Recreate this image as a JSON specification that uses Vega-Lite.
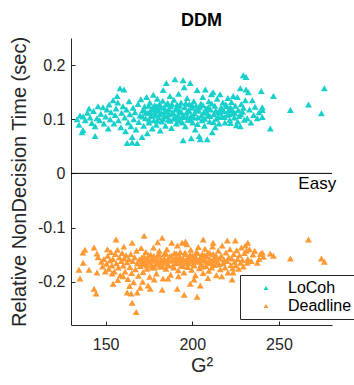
{
"$schema": "https://vega.github.io/schema/vega-lite/v6.json",
"width": 261, "height": 287, "autosize": "none",
"padding": {"left": 71, "top": 38, "right": 22, "bottom": 60},
"config": {"font": "Liberation Sans", "view": {"stroke": null},
  "axis": {"domainColor": "#262626", "tickColor": "#262626", "labelColor": "#262626", "titleColor": "#262626", "labelFontSize": 16, "titleFontSize": 20, "titleFontWeight": "normal", "grid": false, "tickSize": -4, "domainWidth": 1, "tickWidth": 1}},
"title": {"text": "DDM", "fontSize": 18, "fontWeight": "bold", "color": "#000", "offset": 6, "anchor": "middle"},
"layer": [
{"data": {"values": [
{"g":133.5,"t":0.1,"s":"LoCoh"},{"g":134.6,"t":0.09,"s":"LoCoh"},{"g":135.2,"t":0.107,"s":"LoCoh"},{"g":136.4,"t":0.076,"s":"LoCoh"},{"g":136.9,"t":0.08,"s":"LoCoh"},{"g":137,"t":0.105,"s":"LoCoh"},{"g":138.2,"t":0.098,"s":"LoCoh"},{"g":139.5,"t":0.112,"s":"LoCoh"},{"g":140.4,"t":0.12,"s":"LoCoh"},{"g":141,"t":0.103,"s":"LoCoh"},{"g":142,"t":0.093,"s":"LoCoh"},{"g":143,"t":0.115,"s":"LoCoh"},{"g":143.9,"t":0.087,"s":"LoCoh"},{"g":143.9,"t":0.069,"s":"LoCoh"},{"g":145,"t":0.102,"s":"LoCoh"},{"g":145.6,"t":0.124,"s":"LoCoh"},{"g":146.5,"t":0.098,"s":"LoCoh"},{"g":147.2,"t":0.11,"s":"LoCoh"},{"g":148.5,"t":0.122,"s":"LoCoh"},{"g":149,"t":0.092,"s":"LoCoh"},{"g":150,"t":0.105,"s":"LoCoh"},{"g":150.8,"t":0.118,"s":"LoCoh"},{"g":151.5,"t":0.083,"s":"LoCoh"},{"g":152,"t":0.127,"s":"LoCoh"},{"g":152.6,"t":0.1,"s":"LoCoh"},{"g":153.1,"t":0.113,"s":"LoCoh"},{"g":154.3,"t":0.135,"s":"LoCoh"},{"g":154.8,"t":0.092,"s":"LoCoh"},{"g":155.5,"t":0.108,"s":"LoCoh"},{"g":156,"t":0.12,"s":"LoCoh"},{"g":156.6,"t":0.143,"s":"LoCoh"},{"g":157,"t":0.131,"s":"LoCoh"},{"g":157.4,"t":0.098,"s":"LoCoh"},{"g":158.3,"t":0.157,"s":"LoCoh"},{"g":158.8,"t":0.085,"s":"LoCoh"},{"g":159.2,"t":0.112,"s":"LoCoh"},{"g":160,"t":0.124,"s":"LoCoh"},{"g":160.6,"t":0.155,"s":"LoCoh"},{"g":161,"t":0.103,"s":"LoCoh"},{"g":161.5,"t":0.078,"s":"LoCoh"},{"g":162,"t":0.118,"s":"LoCoh"},{"g":162.4,"t":0.056,"s":"LoCoh"},{"g":163,"t":0.094,"s":"LoCoh"},{"g":163.5,"t":0.133,"s":"LoCoh"},{"g":164,"t":0.109,"s":"LoCoh"},{"g":164.6,"t":0.087,"s":"LoCoh"},{"g":165.3,"t":0.057,"s":"LoCoh"},{"g":165.3,"t":0.067,"s":"LoCoh"},{"g":165.8,"t":0.121,"s":"LoCoh"},{"g":166.2,"t":0.1,"s":"LoCoh"},{"g":166.9,"t":0.113,"s":"LoCoh"},{"g":167.5,"t":0.081,"s":"LoCoh"},{"g":168.2,"t":0.056,"s":"LoCoh"},{"g":168.7,"t":0.128,"s":"LoCoh"},{"g":169.1,"t":0.095,"s":"LoCoh"},{"g":169.8,"t":0.107,"s":"LoCoh"},{"g":170.3,"t":0.137,"s":"LoCoh"},{"g":171,"t":0.067,"s":"LoCoh"},{"g":171.4,"t":0.116,"s":"LoCoh"},{"g":171.9,"t":0.088,"s":"LoCoh"},{"g":172.5,"t":0.124,"s":"LoCoh"},{"g":173,"t":0.102,"s":"LoCoh"},{"g":173.6,"t":0.141,"s":"LoCoh"},{"g":174,"t":0.074,"s":"LoCoh"},{"g":174.4,"t":0.112,"s":"LoCoh"},{"g":175,"t":0.094,"s":"LoCoh"},{"g":175.5,"t":0.131,"s":"LoCoh"},{"g":176,"t":0.106,"s":"LoCoh"},{"g":176.4,"t":0.119,"s":"LoCoh"},{"g":176.9,"t":0.083,"s":"LoCoh"},{"g":177.5,"t":0.145,"s":"LoCoh"},{"g":177.9,"t":0.098,"s":"LoCoh"},{"g":178.3,"t":0.126,"s":"LoCoh"},{"g":178.8,"t":0.11,"s":"LoCoh"},{"g":179.2,"t":0.09,"s":"LoCoh"},{"g":179.8,"t":0.138,"s":"LoCoh"},{"g":180.2,"t":0.117,"s":"LoCoh"},{"g":180.6,"t":0.103,"s":"LoCoh"},{"g":181.1,"t":0.128,"s":"LoCoh"},{"g":181.5,"t":0.079,"s":"LoCoh"},{"g":182,"t":0.112,"s":"LoCoh"},{"g":182.4,"t":0.096,"s":"LoCoh"},{"g":182.9,"t":0.134,"s":"LoCoh"},{"g":183.2,"t":0.154,"s":"LoCoh"},{"g":183.6,"t":0.121,"s":"LoCoh"},{"g":184,"t":0.106,"s":"LoCoh"},{"g":184.5,"t":0.088,"s":"LoCoh"},{"g":185,"t":0.167,"s":"LoCoh"},{"g":185.3,"t":0.115,"s":"LoCoh"},{"g":185.8,"t":0.13,"s":"LoCoh"},{"g":186.2,"t":0.099,"s":"LoCoh"},{"g":186.7,"t":0.109,"s":"LoCoh"},{"g":187.1,"t":0.143,"s":"LoCoh"},{"g":187.6,"t":0.124,"s":"LoCoh"},{"g":188,"t":0.084,"s":"LoCoh"},{"g":188.5,"t":0.113,"s":"LoCoh"},{"g":189,"t":0.101,"s":"LoCoh"},{"g":189.4,"t":0.136,"s":"LoCoh"},{"g":190,"t":0.174,"s":"LoCoh"},{"g":190.3,"t":0.118,"s":"LoCoh"},{"g":190.8,"t":0.092,"s":"LoCoh"},{"g":191.2,"t":0.127,"s":"LoCoh"},{"g":191.7,"t":0.108,"s":"LoCoh"},{"g":192.1,"t":0.147,"s":"LoCoh"},{"g":192.6,"t":0.116,"s":"LoCoh"},{"g":193,"t":0.097,"s":"LoCoh"},{"g":193.5,"t":0.131,"s":"LoCoh"},{"g":194,"t":0.104,"s":"LoCoh"},{"g":194.7,"t":0.172,"s":"LoCoh"},{"g":194.7,"t":0.061,"s":"LoCoh"},{"g":195.3,"t":0.159,"s":"LoCoh"},{"g":195.6,"t":0.122,"s":"LoCoh"},{"g":196,"t":0.087,"s":"LoCoh"},{"g":196.5,"t":0.112,"s":"LoCoh"},{"g":197,"t":0.139,"s":"LoCoh"},{"g":197.4,"t":0.099,"s":"LoCoh"},{"g":197.9,"t":0.117,"s":"LoCoh"},{"g":198.3,"t":0.128,"s":"LoCoh"},{"g":198.8,"t":0.167,"s":"LoCoh"},{"g":199.2,"t":0.106,"s":"LoCoh"},{"g":199.4,"t":0.065,"s":"LoCoh"},{"g":199.8,"t":0.121,"s":"LoCoh"},{"g":200.3,"t":0.094,"s":"LoCoh"},{"g":200.8,"t":0.133,"s":"LoCoh"},{"g":201.2,"t":0.111,"s":"LoCoh"},{"g":201.7,"t":0.081,"s":"LoCoh"},{"g":202.2,"t":0.125,"s":"LoCoh"},{"g":202.8,"t":0.154,"s":"LoCoh"},{"g":203.2,"t":0.103,"s":"LoCoh"},{"g":203.7,"t":0.116,"s":"LoCoh"},{"g":204,"t":0.069,"s":"LoCoh"},{"g":204.6,"t":0.063,"s":"LoCoh"},{"g":205,"t":0.129,"s":"LoCoh"},{"g":205.5,"t":0.098,"s":"LoCoh"},{"g":206,"t":0.141,"s":"LoCoh"},{"g":206.5,"t":0.112,"s":"LoCoh"},{"g":207,"t":0.088,"s":"LoCoh"},{"g":207.5,"t":0.155,"s":"LoCoh"},{"g":207.9,"t":0.12,"s":"LoCoh"},{"g":208.6,"t":0.063,"s":"LoCoh"},{"g":209,"t":0.107,"s":"LoCoh"},{"g":209.5,"t":0.133,"s":"LoCoh"},{"g":210,"t":0.096,"s":"LoCoh"},{"g":210.5,"t":0.118,"s":"LoCoh"},{"g":211,"t":0.146,"s":"LoCoh"},{"g":211.5,"t":0.076,"s":"LoCoh"},{"g":212,"t":0.15,"s":"LoCoh"},{"g":212.4,"t":0.109,"s":"LoCoh"},{"g":213,"t":0.125,"s":"LoCoh"},{"g":213.2,"t":0.085,"s":"LoCoh"},{"g":213.8,"t":0.101,"s":"LoCoh"},{"g":214.3,"t":0.138,"s":"LoCoh"},{"g":214.9,"t":0.113,"s":"LoCoh"},{"g":215.4,"t":0.092,"s":"LoCoh"},{"g":216,"t":0.146,"s":"LoCoh"},{"g":216.5,"t":0.121,"s":"LoCoh"},{"g":217,"t":0.104,"s":"LoCoh"},{"g":217.6,"t":0.131,"s":"LoCoh"},{"g":218.2,"t":0.115,"s":"LoCoh"},{"g":218.8,"t":0.094,"s":"LoCoh"},{"g":219.3,"t":0.127,"s":"LoCoh"},{"g":220,"t":0.108,"s":"LoCoh"},{"g":220.5,"t":0.139,"s":"LoCoh"},{"g":221,"t":0.117,"s":"LoCoh"},{"g":221.6,"t":0.099,"s":"LoCoh"},{"g":222,"t":0.122,"s":"LoCoh"},{"g":222,"t":0.093,"s":"LoCoh"},{"g":222.6,"t":0.132,"s":"LoCoh"},{"g":223.2,"t":0.111,"s":"LoCoh"},{"g":223.6,"t":0.143,"s":"LoCoh"},{"g":223.6,"t":0.111,"s":"LoCoh"},{"g":224.2,"t":0.103,"s":"LoCoh"},{"g":224.8,"t":0.125,"s":"LoCoh"},{"g":225.4,"t":0.089,"s":"LoCoh"},{"g":226,"t":0.141,"s":"LoCoh"},{"g":226.5,"t":0.117,"s":"LoCoh"},{"g":227,"t":0.106,"s":"LoCoh"},{"g":227.7,"t":0.157,"s":"LoCoh"},{"g":227.7,"t":0.087,"s":"LoCoh"},{"g":228.3,"t":0.128,"s":"LoCoh"},{"g":229,"t":0.114,"s":"LoCoh"},{"g":229.4,"t":0.181,"s":"LoCoh"},{"g":230,"t":0.099,"s":"LoCoh"},{"g":230.6,"t":0.135,"s":"LoCoh"},{"g":231,"t":0.155,"s":"LoCoh"},{"g":231.7,"t":0.102,"s":"LoCoh"},{"g":231,"t":0.178,"s":"LoCoh"},{"g":232.3,"t":0.15,"s":"LoCoh"},{"g":233,"t":0.118,"s":"LoCoh"},{"g":233.8,"t":0.094,"s":"LoCoh"},{"g":234.6,"t":0.135,"s":"LoCoh"},{"g":235.4,"t":0.108,"s":"LoCoh"},{"g":236.2,"t":0.123,"s":"LoCoh"},{"g":237.5,"t":0.102,"s":"LoCoh"},{"g":238.5,"t":0.113,"s":"LoCoh"},{"g":239.8,"t":0.152,"s":"LoCoh"},{"g":240.4,"t":0.122,"s":"LoCoh"},{"g":240.4,"t":0.104,"s":"LoCoh"},{"g":240.4,"t":0.117,"s":"LoCoh"},{"g":245,"t":0.083,"s":"LoCoh"},{"g":246.8,"t":0.143,"s":"LoCoh"},{"g":256.6,"t":0.117,"s":"LoCoh"},{"g":267,"t":0.127,"s":"LoCoh"},{"g":274.5,"t":0.111,"s":"LoCoh"},{"g":276.2,"t":0.157,"s":"LoCoh"},
{"g":171.2,"t":0.105,"s":"LoCoh"},{"g":172,"t":0.118,"s":"LoCoh"},{"g":173.2,"t":0.112,"s":"LoCoh"},{"g":174.8,"t":0.125,"s":"LoCoh"},{"g":175.2,"t":0.099,"s":"LoCoh"},{"g":176.1,"t":0.113,"s":"LoCoh"},{"g":177.2,"t":0.121,"s":"LoCoh"},{"g":178,"t":0.107,"s":"LoCoh"},{"g":179,"t":0.116,"s":"LoCoh"},{"g":179.5,"t":0.124,"s":"LoCoh"},{"g":180,"t":0.097,"s":"LoCoh"},{"g":181,"t":0.109,"s":"LoCoh"},{"g":181.8,"t":0.122,"s":"LoCoh"},{"g":183,"t":0.101,"s":"LoCoh"},{"g":183.8,"t":0.114,"s":"LoCoh"},{"g":184.8,"t":0.127,"s":"LoCoh"},{"g":185.6,"t":0.105,"s":"LoCoh"},{"g":186.5,"t":0.119,"s":"LoCoh"},{"g":187.3,"t":0.097,"s":"LoCoh"},{"g":188.2,"t":0.128,"s":"LoCoh"},{"g":189.2,"t":0.111,"s":"LoCoh"},{"g":190,"t":0.104,"s":"LoCoh"},{"g":191,"t":0.12,"s":"LoCoh"},{"g":191.9,"t":0.099,"s":"LoCoh"},{"g":192.8,"t":0.125,"s":"LoCoh"},{"g":193.8,"t":0.113,"s":"LoCoh"},{"g":194.3,"t":0.094,"s":"LoCoh"},{"g":195,"t":0.106,"s":"LoCoh"},{"g":196.2,"t":0.13,"s":"LoCoh"},{"g":197,"t":0.104,"s":"LoCoh"},{"g":198,"t":0.115,"s":"LoCoh"},{"g":199,"t":0.098,"s":"LoCoh"},{"g":200,"t":0.126,"s":"LoCoh"},{"g":201,"t":0.103,"s":"LoCoh"},{"g":202,"t":0.116,"s":"LoCoh"},{"g":203,"t":0.091,"s":"LoCoh"},{"g":204.2,"t":0.122,"s":"LoCoh"},{"g":205.2,"t":0.107,"s":"LoCoh"},{"g":206.2,"t":0.126,"s":"LoCoh"},{"g":207.2,"t":0.101,"s":"LoCoh"},{"g":208.2,"t":0.114,"s":"LoCoh"},{"g":209.2,"t":0.122,"s":"LoCoh"},{"g":210.2,"t":0.106,"s":"LoCoh"},{"g":211.2,"t":0.129,"s":"LoCoh"},{"g":212.2,"t":0.095,"s":"LoCoh"},{"g":213.5,"t":0.116,"s":"LoCoh"},{"g":215,"t":0.104,"s":"LoCoh"},{"g":216.2,"t":0.112,"s":"LoCoh"},{"g":217.3,"t":0.119,"s":"LoCoh"},{"g":218.5,"t":0.104,"s":"LoCoh"},{"g":219.8,"t":0.124,"s":"LoCoh"},{"g":221.3,"t":0.109,"s":"LoCoh"},{"g":222.8,"t":0.118,"s":"LoCoh"},{"g":224.5,"t":0.112,"s":"LoCoh"},{"g":226.2,"t":0.096,"s":"LoCoh"},{"g":228,"t":0.109,"s":"LoCoh"},{"g":229.5,"t":0.121,"s":"LoCoh"},
{"g":135.2,"t":-0.194,"s":"Deadline"},{"g":134.6,"t":-0.178,"s":"Deadline"},{"g":136.9,"t":-0.146,"s":"Deadline"},{"g":138,"t":-0.141,"s":"Deadline"},{"g":137,"t":-0.165,"s":"Deadline"},{"g":140.4,"t":-0.178,"s":"Deadline"},{"g":143.3,"t":-0.137,"s":"Deadline"},{"g":143.3,"t":-0.213,"s":"Deadline"},{"g":144.5,"t":-0.222,"s":"Deadline"},{"g":145,"t":-0.148,"s":"Deadline"},{"g":145,"t":-0.183,"s":"Deadline"},{"g":145.6,"t":-0.155,"s":"Deadline"},{"g":156,"t":-0.122,"s":"Deadline"},{"g":153.7,"t":-0.185,"s":"Deadline"},{"g":154.3,"t":-0.204,"s":"Deadline"},{"g":162.4,"t":-0.22,"s":"Deadline"},{"g":164.7,"t":-0.222,"s":"Deadline"},{"g":165.3,"t":-0.239,"s":"Deadline"},{"g":167.6,"t":-0.256,"s":"Deadline"},{"g":168.2,"t":-0.22,"s":"Deadline"},{"g":165.3,"t":-0.128,"s":"Deadline"},{"g":172.2,"t":-0.115,"s":"Deadline"},{"g":169.9,"t":-0.211,"s":"Deadline"},{"g":174.5,"t":-0.207,"s":"Deadline"},{"g":175.7,"t":-0.213,"s":"Deadline"},{"g":182.6,"t":-0.119,"s":"Deadline"},{"g":182.6,"t":-0.215,"s":"Deadline"},{"g":191.3,"t":-0.213,"s":"Deadline"},{"g":195.3,"t":-0.224,"s":"Deadline"},{"g":198.8,"t":-0.204,"s":"Deadline"},{"g":202.8,"t":-0.228,"s":"Deadline"},{"g":204.6,"t":-0.207,"s":"Deadline"},{"g":206.3,"t":-0.122,"s":"Deadline"},{"g":220.2,"t":-0.124,"s":"Deadline"},{"g":224.8,"t":-0.124,"s":"Deadline"},{"g":223,"t":-0.196,"s":"Deadline"},{"g":223.6,"t":-0.183,"s":"Deadline"},{"g":230.6,"t":-0.133,"s":"Deadline"},{"g":231.7,"t":-0.165,"s":"Deadline"},{"g":237.5,"t":-0.165,"s":"Deadline"},{"g":240.4,"t":-0.146,"s":"Deadline"},{"g":241,"t":-0.154,"s":"Deadline"},{"g":245,"t":-0.148,"s":"Deadline"},{"g":246.8,"t":-0.152,"s":"Deadline"},{"g":256.6,"t":-0.157,"s":"Deadline"},{"g":267,"t":-0.122,"s":"Deadline"},{"g":274.5,"t":-0.157,"s":"Deadline"},{"g":276.2,"t":-0.163,"s":"Deadline"},
{"g":147.5,"t":-0.163,"s":"Deadline"},{"g":148.2,"t":-0.172,"s":"Deadline"},{"g":149,"t":-0.158,"s":"Deadline"},{"g":149.8,"t":-0.181,"s":"Deadline"},{"g":150.5,"t":-0.167,"s":"Deadline"},{"g":151.2,"t":-0.152,"s":"Deadline"},{"g":151.8,"t":-0.176,"s":"Deadline"},{"g":152.5,"t":-0.161,"s":"Deadline"},{"g":153,"t":-0.145,"s":"Deadline"},{"g":153.6,"t":-0.17,"s":"Deadline"},{"g":154.2,"t":-0.158,"s":"Deadline"},{"g":155,"t":-0.181,"s":"Deadline"},{"g":155.6,"t":-0.149,"s":"Deadline"},{"g":156.2,"t":-0.166,"s":"Deadline"},{"g":156.8,"t":-0.141,"s":"Deadline"},{"g":157.3,"t":-0.174,"s":"Deadline"},{"g":157.9,"t":-0.155,"s":"Deadline"},{"g":158.4,"t":-0.188,"s":"Deadline"},{"g":159,"t":-0.162,"s":"Deadline"},{"g":159.5,"t":-0.147,"s":"Deadline"},{"g":160.1,"t":-0.17,"s":"Deadline"},{"g":160.6,"t":-0.157,"s":"Deadline"},{"g":161.2,"t":-0.181,"s":"Deadline"},{"g":161.8,"t":-0.151,"s":"Deadline"},{"g":162.3,"t":-0.164,"s":"Deadline"},{"g":162.9,"t":-0.195,"s":"Deadline"},{"g":163.4,"t":-0.158,"s":"Deadline"},{"g":164,"t":-0.173,"s":"Deadline"},{"g":164.5,"t":-0.149,"s":"Deadline"},{"g":165,"t":-0.184,"s":"Deadline"},{"g":165.6,"t":-0.162,"s":"Deadline"},{"g":166.1,"t":-0.201,"s":"Deadline"},{"g":166.7,"t":-0.155,"s":"Deadline"},{"g":167.2,"t":-0.177,"s":"Deadline"},{"g":167.8,"t":-0.143,"s":"Deadline"},{"g":168.3,"t":-0.166,"s":"Deadline"},{"g":168.9,"t":-0.189,"s":"Deadline"},{"g":169.4,"t":-0.159,"s":"Deadline"},{"g":170,"t":-0.171,"s":"Deadline"},{"g":170.5,"t":-0.138,"s":"Deadline"},{"g":171,"t":-0.162,"s":"Deadline"},{"g":171.6,"t":-0.182,"s":"Deadline"},{"g":172.1,"t":-0.153,"s":"Deadline"},{"g":172.7,"t":-0.168,"s":"Deadline"},{"g":173.2,"t":-0.145,"s":"Deadline"},{"g":173.8,"t":-0.176,"s":"Deadline"},{"g":174.3,"t":-0.157,"s":"Deadline"},{"g":174.9,"t":-0.164,"s":"Deadline"},{"g":175.4,"t":-0.191,"s":"Deadline"},{"g":176,"t":-0.15,"s":"Deadline"},{"g":176.5,"t":-0.169,"s":"Deadline"},{"g":177.1,"t":-0.158,"s":"Deadline"},{"g":177.6,"t":-0.137,"s":"Deadline"},{"g":178.2,"t":-0.174,"s":"Deadline"},{"g":178.7,"t":-0.161,"s":"Deadline"},{"g":179.3,"t":-0.185,"s":"Deadline"},{"g":179.8,"t":-0.152,"s":"Deadline"},{"g":180.4,"t":-0.167,"s":"Deadline"},{"g":180.9,"t":-0.143,"s":"Deadline"},{"g":181.5,"t":-0.172,"s":"Deadline"},{"g":182,"t":-0.158,"s":"Deadline"},{"g":182.6,"t":-0.165,"s":"Deadline"},{"g":183.1,"t":-0.194,"s":"Deadline"},{"g":183.7,"t":-0.149,"s":"Deadline"},{"g":184.2,"t":-0.163,"s":"Deadline"},{"g":184.8,"t":-0.176,"s":"Deadline"},{"g":185.3,"t":-0.14,"s":"Deadline"},{"g":185.9,"t":-0.158,"s":"Deadline"},{"g":186.4,"t":-0.17,"s":"Deadline"},{"g":187,"t":-0.153,"s":"Deadline"},{"g":187.5,"t":-0.187,"s":"Deadline"},{"g":188.1,"t":-0.128,"s":"Deadline"},{"g":188.6,"t":-0.161,"s":"Deadline"},{"g":189.2,"t":-0.174,"s":"Deadline"},{"g":189.7,"t":-0.147,"s":"Deadline"},{"g":190.3,"t":-0.166,"s":"Deadline"},{"g":190.8,"t":-0.156,"s":"Deadline"},{"g":191.4,"t":-0.133,"s":"Deadline"},{"g":191.9,"t":-0.179,"s":"Deadline"},{"g":192.5,"t":-0.16,"s":"Deadline"},{"g":193,"t":-0.145,"s":"Deadline"},{"g":193.6,"t":-0.17,"s":"Deadline"},{"g":194.1,"t":-0.128,"s":"Deadline"},{"g":194.7,"t":-0.157,"s":"Deadline"},{"g":195.2,"t":-0.183,"s":"Deadline"},{"g":195.8,"t":-0.149,"s":"Deadline"},{"g":196.3,"t":-0.165,"s":"Deadline"},{"g":196.9,"t":-0.131,"s":"Deadline"},{"g":197.4,"t":-0.173,"s":"Deadline"},{"g":198,"t":-0.155,"s":"Deadline"},{"g":198.5,"t":-0.162,"s":"Deadline"},{"g":199.1,"t":-0.141,"s":"Deadline"},{"g":199.6,"t":-0.178,"s":"Deadline"},{"g":200.2,"t":-0.152,"s":"Deadline"},{"g":200.7,"t":-0.167,"s":"Deadline"},{"g":201.3,"t":-0.158,"s":"Deadline"},{"g":201.8,"t":-0.188,"s":"Deadline"},{"g":202.4,"t":-0.145,"s":"Deadline"},{"g":202.9,"t":-0.163,"s":"Deadline"},{"g":203.5,"t":-0.136,"s":"Deadline"},{"g":204,"t":-0.175,"s":"Deadline"},{"g":204.6,"t":-0.156,"s":"Deadline"},{"g":205.1,"t":-0.168,"s":"Deadline"},{"g":205.7,"t":-0.149,"s":"Deadline"},{"g":206.2,"t":-0.184,"s":"Deadline"},{"g":206.8,"t":-0.16,"s":"Deadline"},{"g":207.3,"t":-0.139,"s":"Deadline"},{"g":207.9,"t":-0.171,"s":"Deadline"},{"g":208.4,"t":-0.153,"s":"Deadline"},{"g":209,"t":-0.165,"s":"Deadline"},{"g":209.5,"t":-0.18,"s":"Deadline"},{"g":210.1,"t":-0.147,"s":"Deadline"},{"g":210.6,"t":-0.161,"s":"Deadline"},{"g":211.2,"t":-0.174,"s":"Deadline"},{"g":211.7,"t":-0.135,"s":"Deadline"},{"g":212.3,"t":-0.158,"s":"Deadline"},{"g":212.8,"t":-0.169,"s":"Deadline"},{"g":213.4,"t":-0.151,"s":"Deadline"},{"g":213.9,"t":-0.188,"s":"Deadline"},{"g":214.5,"t":-0.164,"s":"Deadline"},{"g":215,"t":-0.143,"s":"Deadline"},{"g":215.6,"t":-0.157,"s":"Deadline"},{"g":216.1,"t":-0.177,"s":"Deadline"},{"g":216.7,"t":-0.152,"s":"Deadline"},{"g":217.2,"t":-0.133,"s":"Deadline"},{"g":217.8,"t":-0.166,"s":"Deadline"},{"g":218.3,"t":-0.159,"s":"Deadline"},{"g":218.9,"t":-0.174,"s":"Deadline"},{"g":219.4,"t":-0.146,"s":"Deadline"},{"g":220,"t":-0.162,"s":"Deadline"},{"g":220.6,"t":-0.183,"s":"Deadline"},{"g":221.1,"t":-0.155,"s":"Deadline"},{"g":221.7,"t":-0.14,"s":"Deadline"},{"g":222.2,"t":-0.169,"s":"Deadline"},{"g":222.8,"t":-0.157,"s":"Deadline"},{"g":223.3,"t":-0.175,"s":"Deadline"},{"g":223.9,"t":-0.149,"s":"Deadline"},{"g":224.4,"t":-0.163,"s":"Deadline"},{"g":225,"t":-0.17,"s":"Deadline"},{"g":225.6,"t":-0.142,"s":"Deadline"},{"g":226.1,"t":-0.158,"s":"Deadline"},{"g":226.7,"t":-0.176,"s":"Deadline"},{"g":227.2,"t":-0.151,"s":"Deadline"},{"g":227.8,"t":-0.165,"s":"Deadline"},{"g":228.3,"t":-0.137,"s":"Deadline"},{"g":228.9,"t":-0.16,"s":"Deadline"},{"g":229.4,"t":-0.172,"s":"Deadline"},{"g":230,"t":-0.147,"s":"Deadline"},{"g":231.2,"t":-0.143,"s":"Deadline"},{"g":232,"t":-0.158,"s":"Deadline"},{"g":233,"t":-0.14,"s":"Deadline"},{"g":234,"t":-0.162,"s":"Deadline"},{"g":235,"t":-0.15,"s":"Deadline"},{"g":236,"t":-0.143,"s":"Deadline"},{"g":238.5,"t":-0.158,"s":"Deadline"},{"g":239.2,"t":-0.149,"s":"Deadline"},
{"g":170.8,"t":-0.156,"s":"Deadline"},{"g":171.8,"t":-0.166,"s":"Deadline"},{"g":172.9,"t":-0.16,"s":"Deadline"},{"g":173.9,"t":-0.17,"s":"Deadline"},{"g":174.8,"t":-0.151,"s":"Deadline"},{"g":175.8,"t":-0.162,"s":"Deadline"},{"g":176.8,"t":-0.174,"s":"Deadline"},{"g":177.8,"t":-0.152,"s":"Deadline"},{"g":178.8,"t":-0.168,"s":"Deadline"},{"g":179.8,"t":-0.16,"s":"Deadline"},{"g":180.8,"t":-0.15,"s":"Deadline"},{"g":181.8,"t":-0.164,"s":"Deadline"},{"g":182.8,"t":-0.172,"s":"Deadline"},{"g":183.8,"t":-0.157,"s":"Deadline"},{"g":184.8,"t":-0.148,"s":"Deadline"},{"g":185.8,"t":-0.167,"s":"Deadline"},{"g":186.8,"t":-0.161,"s":"Deadline"},{"g":187.8,"t":-0.152,"s":"Deadline"},{"g":188.8,"t":-0.17,"s":"Deadline"},{"g":189.8,"t":-0.158,"s":"Deadline"},{"g":190.8,"t":-0.148,"s":"Deadline"},{"g":191.8,"t":-0.165,"s":"Deadline"},{"g":192.8,"t":-0.154,"s":"Deadline"},{"g":193.8,"t":-0.162,"s":"Deadline"},{"g":194.8,"t":-0.171,"s":"Deadline"},{"g":195.8,"t":-0.146,"s":"Deadline"},{"g":196.8,"t":-0.158,"s":"Deadline"},{"g":197.8,"t":-0.166,"s":"Deadline"},{"g":198.8,"t":-0.15,"s":"Deadline"},{"g":199.8,"t":-0.161,"s":"Deadline"},{"g":201,"t":-0.17,"s":"Deadline"},{"g":202,"t":-0.154,"s":"Deadline"},{"g":203,"t":-0.147,"s":"Deadline"},{"g":204,"t":-0.162,"s":"Deadline"},{"g":205,"t":-0.157,"s":"Deadline"},{"g":206,"t":-0.172,"s":"Deadline"},{"g":207,"t":-0.151,"s":"Deadline"},{"g":208,"t":-0.163,"s":"Deadline"},{"g":209,"t":-0.146,"s":"Deadline"},{"g":210,"t":-0.158,"s":"Deadline"},{"g":211,"t":-0.166,"s":"Deadline"},{"g":212,"t":-0.149,"s":"Deadline"},{"g":213,"t":-0.16,"s":"Deadline"},{"g":214,"t":-0.155,"s":"Deadline"},{"g":215.5,"t":-0.168,"s":"Deadline"},
{"g":157,"t":-0.197,"s":"Deadline"},{"g":160,"t":-0.19,"s":"Deadline"},{"g":163.8,"t":-0.208,"s":"Deadline"},{"g":171.3,"t":-0.2,"s":"Deadline"},{"g":178,"t":-0.196,"s":"Deadline"},{"g":186,"t":-0.194,"s":"Deadline"},{"g":192,"t":-0.19,"s":"Deadline"},{"g":201,"t":-0.196,"s":"Deadline"},{"g":209,"t":-0.193,"s":"Deadline"},{"g":217,"t":-0.19,"s":"Deadline"},
{"g":151,"t":-0.14,"s":"Deadline"},{"g":160.5,"t":-0.135,"s":"Deadline"},{"g":180,"t":-0.127,"s":"Deadline"},{"g":196,"t":-0.126,"s":"Deadline"},{"g":212,"t":-0.128,"s":"Deadline"},{"g":232,"t":-0.128,"s":"Deadline"}
]},
 "mark": {"type": "point", "shape": "triangle-up", "filled": true, "size": 48, "opacity": 1},
 "encoding": {
  "x": {"field": "g", "type": "quantitative", "scale": {"domain": [130, 280.6], "nice": false, "zero": false},
        "axis": {"title": "G²", "values": [150, 200, 250], "labelPadding": 15, "titlePadding": 3, "format": "d"}},
  "y": {"field": "t", "type": "quantitative", "scale": {"domain": [-0.28, 0.25], "nice": false, "zero": false},
        "axis": {"title": "Relative NonDecision Time (sec)", "values": [-0.2, -0.1, 0, 0.1, 0.2], "labelPadding": 10, "titlePadding": 8,
                 "labelExpr": "datum.value == 0 ? '0' : (datum.value < 0 ? '-' : '') + format(abs(datum.value), '.1f')"}},
  "color": {"field": "s", "type": "nominal", "scale": {"domain": ["LoCoh", "Deadline"], "range": ["#17d0cb", "#ff9933"]},
            "legend": {"title": null, "orient": "none", "legendX": 169, "legendY": 237, "strokeColor": "#262626", "fillColor": "white",
                       "padding": 5, "labelFontSize": 16, "labelColor": "#000", "symbolType": "triangle-up", "symbolSize": 24,
                       "symbolStrokeWidth": 0, "symbolOffset": 13, "labelOffset": 14, "rowPadding": 2, "labelLimit": 200}}
 }},
{"data": {"values": [{}]}, "mark": {"type": "rule", "color": "#000", "strokeWidth": 1}, "encoding": {"y": {"datum": 0}}},
{"data": {"values": [{}]}, "mark": {"type": "text", "align": "right", "baseline": "alphabetic", "fontSize": 17, "color": "#000"},
 "encoding": {"x": {"datum": 283}, "y": {"datum": -0.0296}, "text": {"value": "Easy"}}}
]
}
